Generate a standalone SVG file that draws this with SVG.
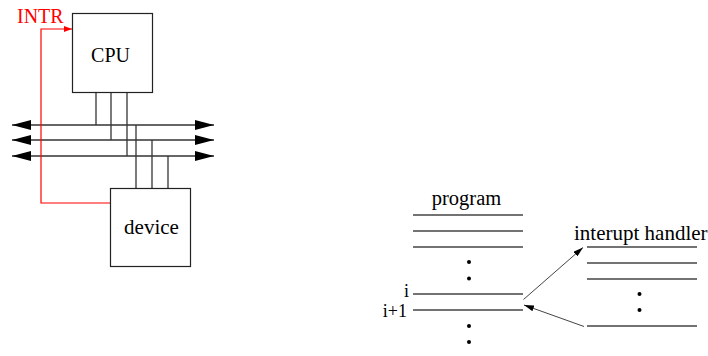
<svg xmlns="http://www.w3.org/2000/svg" width="708" height="356" viewBox="0 0 708 356">
  <defs>
    <style>
      .box { fill: #fff; stroke: #222; stroke-width: 1.2; }
      .wire { fill: none; stroke: #333; stroke-width: 1.3; }
      .line { fill: none; stroke: #444; stroke-width: 1.3; }
      .intr { fill: none; stroke: #ff0000; stroke-width: 1.2; }
      .ptr { fill: none; stroke: #444; stroke-width: 1; }
      .lbl { font-family: "Liberation Serif", "Times New Roman", serif; font-size: 20px; fill: #000; }
      .idx { font-family: "Liberation Serif", "Times New Roman", serif; font-size: 18px; fill: #000; }
      .dot { fill: #000; }
    </style>
    <marker id="busHead" viewBox="0 0 19 10" refX="19" refY="5" markerWidth="19" markerHeight="10" markerUnits="userSpaceOnUse" orient="auto-start-reverse">
      <path d="M0,0 L19,5 L0,10 Z" fill="#000"/>
    </marker>
    <marker id="redHead" viewBox="0 0 8 6" refX="8" refY="3" markerWidth="8" markerHeight="6" markerUnits="userSpaceOnUse" orient="auto">
      <path d="M0,0 L8,3 L0,6 Z" fill="#ff0000"/>
    </marker>
    <marker id="ptrHead" viewBox="0 0 10 6" refX="10" refY="3" markerWidth="10" markerHeight="6" markerUnits="userSpaceOnUse" orient="auto">
      <path d="M0,0 L10,3 L0,6 Z" fill="#000"/>
    </marker>
  </defs>

  <!-- bus system and interrupt wiring -->
  <g id="connectors">
    <!-- three-line system bus, bidirectional -->
    <line class="wire" x1="12" y1="125" x2="214" y2="125" marker-start="url(#busHead)" marker-end="url(#busHead)"/>
    <line class="wire" x1="12" y1="140" x2="214" y2="140" marker-start="url(#busHead)" marker-end="url(#busHead)"/>
    <line class="wire" x1="12" y1="156" x2="214" y2="156" marker-start="url(#busHead)" marker-end="url(#busHead)"/>
    <!-- CPU taps -->
    <line class="wire" x1="96" y1="92" x2="96" y2="125"/>
    <line class="wire" x1="111" y1="92" x2="111" y2="140"/>
    <line class="wire" x1="127" y1="92" x2="127" y2="156"/>
    <!-- device taps -->
    <line class="wire" x1="136" y1="125" x2="136" y2="188"/>
    <line class="wire" x1="152" y1="140" x2="152" y2="188"/>
    <line class="wire" x1="168" y1="156" x2="168" y2="188"/>
    <!-- interrupt request line -->
    <polyline class="intr" points="110.5,203 41,203 41,29 72,29" marker-end="url(#redHead)"/>
    <!-- control transfer to handler and back -->
    <line class="ptr" x1="523.5" y1="299.5" x2="583" y2="247.5" marker-end="url(#ptrHead)"/>
    <line class="ptr" x1="584" y1="326.5" x2="524" y2="305" marker-end="url(#ptrHead)"/>
  </g>

  <text class="lbl" x="17" y="23" style="fill:#ff0000">INTR</text>

  <g id="cpu">
    <rect class="box" x="72.5" y="13.5" width="80" height="79"/>
    <text class="lbl" x="110.5" y="62" text-anchor="middle">CPU</text>
  </g>

  <g id="device">
    <rect class="box" x="110.5" y="188.5" width="80" height="78"/>
    <text class="lbl" x="151.5" y="234" text-anchor="middle" style="font-size:21px">device</text>
  </g>

  <g id="program">
    <text class="lbl" x="466.5" y="205" text-anchor="middle" style="font-size:20.5px">program</text>
    <line class="line" x1="413" y1="215" x2="523" y2="215"/>
    <line class="line" x1="413" y1="231" x2="523" y2="231"/>
    <line class="line" x1="413" y1="247" x2="523" y2="247"/>
    <circle class="dot" cx="469" cy="262" r="2"/>
    <circle class="dot" cx="469" cy="278.5" r="2"/>
    <text class="idx" x="409" y="296.5" text-anchor="end">i</text>
    <line class="line" x1="413" y1="294" x2="523" y2="294"/>
    <text class="idx" x="407" y="317" text-anchor="end">i+1</text>
    <line class="line" x1="413" y1="310" x2="523" y2="310"/>
    <circle class="dot" cx="469" cy="326" r="2"/>
    <circle class="dot" cx="469" cy="342" r="2"/>
  </g>

  <g id="handler">
    <text class="lbl" x="574" y="240" style="font-size:21px">interupt handler</text>
    <line class="line" x1="587" y1="247" x2="697" y2="247"/>
    <line class="line" x1="587" y1="263" x2="697" y2="263"/>
    <line class="line" x1="587" y1="279" x2="697" y2="279"/>
    <circle class="dot" cx="639.5" cy="294" r="2"/>
    <circle class="dot" cx="639.5" cy="310" r="2"/>
    <line class="line" x1="587" y1="326" x2="697" y2="326"/>
  </g>
</svg>
